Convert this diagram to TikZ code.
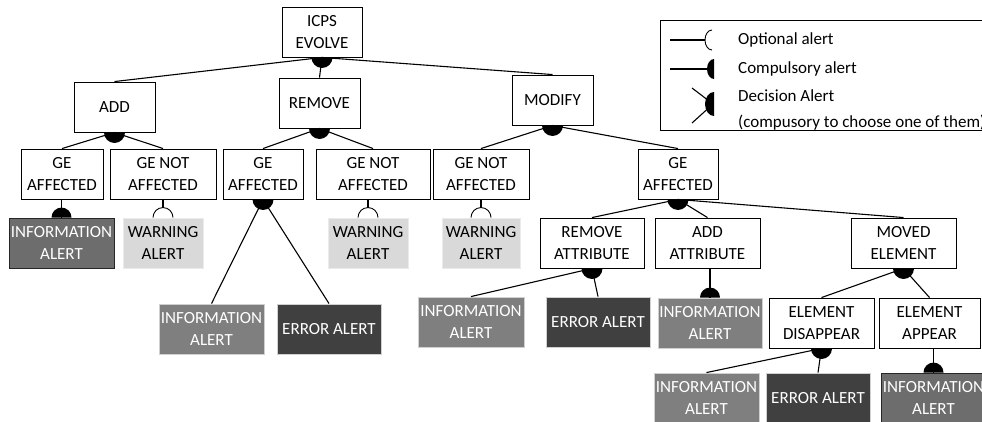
\documentclass[tikz,border=0pt]{standalone}
\usepackage{fontspec}
\setmainfont{Carlito}
\definecolor{infodark}{HTML}{6D6D6D}
\definecolor{infofill}{HTML}{7F7F7F}
\definecolor{errfill}{HTML}{404040}
\definecolor{warnfill}{HTML}{D9D9D9}
\definecolor{lightedge}{HTML}{D0D0D0}
\definecolor{darkedge}{HTML}{262626}
\newcommand\cdiscdown[1]{\fill (#1) ++(10.5pt,0pt) arc[start angle=0,end angle=-180,radius=10.5pt] -- cycle;}
\newcommand\cdiscup[1]{\fill (#1) ++(10pt,0pt) arc[start angle=0,end angle=180,radius=10pt] -- cycle;}
\newcommand\optarc[1]{\draw[line width=0.9pt] (#1) ++(10pt,0pt) arc[start angle=0,end angle=180,radius=10pt];}
\begin{document}
\begin{tikzpicture}[x=1pt,y=-1pt,
  txt/.style={font=\fontsize{17}{22}\selectfont},
  box/.style={txt,draw=black,line width=0.9pt,fill=white,inner sep=0pt,align=center,minimum height=50pt},
  alertbox/.style={txt,line width=0.9pt,inner sep=0pt,align=center,minimum height=50pt},
  infod/.style={alertbox,fill=infodark,draw=darkedge,text=white},
  info/.style={alertbox,fill=infofill,draw=lightedge,text=white},
  err/.style={alertbox,fill=errfill,draw=lightedge,text=white},
  warn/.style={alertbox,fill=warnfill,draw=white!92!black,text=black},
  conn/.style={line width=1.1pt},
  legtxt/.style={txt,anchor=west,inner sep=0pt}
]
\clip (0,0) rectangle (982,421);
\fill[white] (0,0) rectangle (982,421);

% level 0/1
\node[box,minimum width=80pt] (icps) at (322,32) {ICPS\\EVOLVE};
\node[box,minimum width=81pt] (add) at (114.5,107) {ADD};
\node[box,minimum width=81pt] (rem) at (319.5,103) {REMOVE};
\node[box,minimum width=81pt] (mod) at (552.5,100) {MODIFY};

% level 2
\node[box,minimum width=82pt] (a1) at (62,174) {GE\\AFFECTED};
\node[box,minimum width=106pt] (a2) at (163,174) {GE NOT\\AFFECTED};
\node[box,minimum width=80pt] (r1) at (263,174) {GE\\AFFECTED};
\node[box,minimum width=114pt] (r2) at (373,174) {GE NOT\\AFFECTED};
\node[box,minimum width=96pt] (m1) at (481,174) {GE NOT\\AFFECTED};
\node[box,minimum width=80pt] (m2) at (678,174) {GE\\AFFECTED};

% level 3
\node[infod,minimum width=105pt] (ia) at (61.5,243) {INFORMATION\\ALERT};
\node[warn,minimum width=80pt] (wa) at (163,243) {WARNING\\ALERT};
\node[warn,minimum width=80pt] (wr) at (368,243) {WARNING\\ALERT};
\node[warn,minimum width=78pt] (wm) at (481,243) {WARNING\\ALERT};
\node[box,minimum width=104pt] (ra) at (592,243) {REMOVE\\ATTRIBUTE};
\node[box,minimum width=105pt] (aa) at (707.5,243) {ADD\\ATTRIBUTE};
\node[box,minimum width=105pt] (me) at (903.5,243) {MOVED\\ELEMENT};

% level 4
\node[info,minimum width=105pt] (ir) at (211.5,329) {INFORMATION\\ALERT};
\node[err,minimum width=104pt] (er) at (329,329) {ERROR ALERT};
\node[info,minimum width=106pt] (im) at (471,322) {INFORMATION\\ALERT};
\node[err,minimum width=104pt] (em) at (598,322) {ERROR ALERT};
\node[info,minimum width=104pt] (iad) at (710,323) {INFORMATION\\ALERT};
\node[box,minimum width=105pt] (ed) at (821.5,323) {ELEMENT\\DISAPPEAR};
\node[box,minimum width=101pt] (ea) at (929.5,323) {ELEMENT\\APPEAR};

% level 5
\node[info,minimum width=105pt] (i5a) at (706.5,398) {INFORMATION\\ALERT};
\node[err,minimum width=104pt] (e5) at (818,398) {ERROR ALERT};
\node[infod,minimum width=105pt] (i5b) at (933.5,398) {INFORMATION\\ALERT};

% connectors
\draw[conn] (icps.south) -- (add.north);
\draw[conn] (icps.south) -- (rem.north);
\draw[conn] (icps.south) -- (mod.north);
\cdiscdown{icps.south}

\draw[conn] (add.south) -- (a1.north);
\draw[conn] (add.south) -- (a2.north);
\cdiscdown{add.south}

\draw[conn] (rem.south) -- (r1.north);
\draw[conn] (rem.south) -- (r2.north);
\cdiscdown{rem.south}

\draw[conn] (mod.south) -- (m1.north);
\draw[conn] (mod.south) -- (m2.north);
\cdiscdown{mod.south}

\draw[conn] (ia.north |- a1.south) -- (ia.north);
\cdiscup{ia.north}
\draw[conn] (wa.north |- a2.south) -- ([yshift=10pt]wa.north);
\optarc{wa.north}

\draw[conn] (r1.south) -- (ir.north);
\draw[conn] (r1.south) -- (er.north);
\cdiscdown{r1.south}
\draw[conn] (wr.north |- r2.south) -- ([yshift=10pt]wr.north);
\optarc{wr.north}

\draw[conn] (wm.north |- m1.south) -- ([yshift=10pt]wm.north);
\optarc{wm.north}

\draw[conn] (m2.south) -- (ra.north);
\draw[conn] (m2.south) -- (aa.north);
\draw[conn] (m2.south) -- (me.north);
\cdiscdown{m2.south}

\draw[conn] (ra.south) -- (im.north);
\draw[conn] (ra.south) -- (em.north);
\cdiscdown{ra.south}

\draw[conn] (iad.north |- aa.south) -- (iad.north);
\cdiscup{iad.north}

\draw[conn] (me.south) -- (ed.north);
\draw[conn] (me.south) -- (ea.north);
\cdiscdown{me.south}

\draw[conn] (ed.south) -- (i5a.north);
\draw[conn] (ed.south) -- (e5.north);
\cdiscdown{ed.south}

\draw[conn] (i5b.north |- ea.south) -- (i5b.north);
\cdiscup{i5b.north}

% legend
\draw[line width=0.9pt] (660,20) rectangle (1000,130);
\draw[conn] (670,40) -- (705,40);
\draw[line width=0.9pt] (712,40) ++(0pt,10pt) arc[start angle=90,end angle=270,x radius=7pt,y radius=10pt];
\draw[conn] (670,69) -- (708,69);
\fill (714,69) ++(0pt,10pt) arc[start angle=90,end angle=270,x radius=7pt,y radius=10pt] -- cycle;
\draw[conn] (692,88) -- (713,104);
\draw[conn] (692,123) -- (713,104);
\fill (714,104) ++(0pt,12pt) arc[start angle=90,end angle=270,x radius=9pt,y radius=12pt] -- cycle;
\node[legtxt] (l1) at (738,40) {Optional alert};
\node[legtxt] (l2) at (738,69) {Compulsory alert};
\node[legtxt] (l3) at (738,96) {Decision Alert};
\node[legtxt] (l4) at (738,123) {(compusory to choose one of them)};
\end{tikzpicture}
\end{document}
